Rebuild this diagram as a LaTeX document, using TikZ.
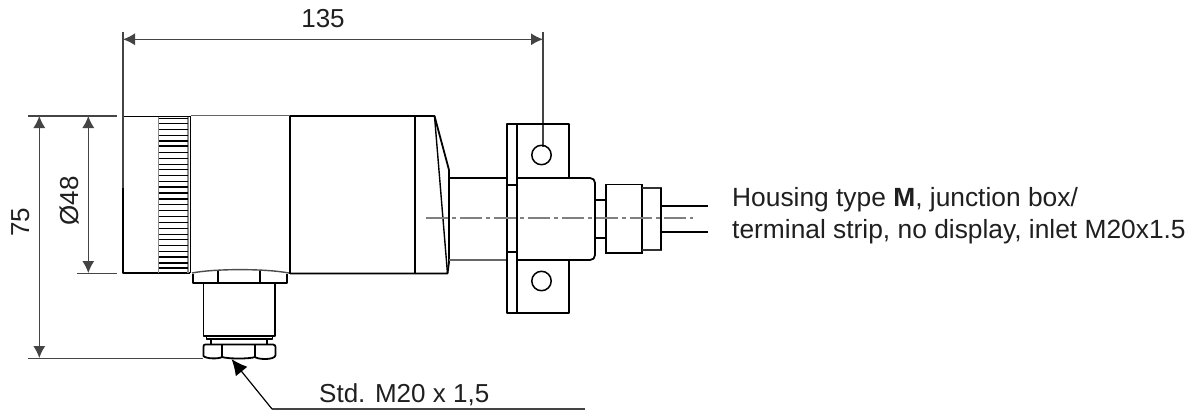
\documentclass[tikz,border=0pt]{standalone}
\usepackage{fontspec}
\setmainfont{Liberation Sans}
\usetikzlibrary{arrows.meta}
\definecolor{dimgray}{HTML}{444444}
\tikzset{
  part/.style={line width=1.8pt,black,line join=round},
  dim/.style={line width=1.1pt,draw=dimgray},
  dimarrow/.style={dim,{Latex[length=12pt,width=12pt]}-{Latex[length=12pt,width=12pt]}},
  center line/.style={line width=1.3pt,draw=black!50,dash pattern=on 22pt off 4pt on 4pt off 4pt},
  label/.style={font=\fontsize{26}{30}\selectfont,inner sep=0pt,text=black!88},
  longlabel/.style={font=\fontsize{26.35}{30}\selectfont,inner sep=0pt,text=black!88}
}
\begin{document}
\begin{tikzpicture}[x=1pt,y=-1pt]
\useasboundingbox (0,0) rectangle (1202,410);
% named dimension points
\coordinate (dl) at (123,39.3); \coordinate (dr) at (543,39.3);
\coordinate (a1) at (88.3,116); \coordinate (a2) at (88.3,273);
\coordinate (b1) at (39.3,116); \coordinate (b2) at (39.3,358);
% extension lines
\draw[dim] (28,116) -- (117,116);
\draw[dim] (77,273.5) -- (117,273.5);
\draw[dim] (28,358.5) -- (203,358.5);
% dimension lines
\draw[dimarrow] (dl) -- (dr);
\draw[dimarrow] (a1) -- (a2);
\draw[dimarrow] (b1) -- (b2);
% cap section and knurl
\draw[part] (190,116.5) -- (123,116.5) -- (123,273) -- (190,273);
\draw[line width=1.5pt,black!45] (158.7,116.5) -- (158.7,273) (188,116.5) -- (188,273);
\foreach \k in {55,70,87,105,157,175,192,208,226,243,314,332,349,367,385,402,419,436,453}
  \draw[line width=1pt] (158.7,100+\k/3) -- (188,100+\k/3);
\foreach \k in {122,138,260,278,296,470,488,505}
  \draw[line width=1.7pt] (158.7,100+\k/3) -- (188,100+\k/3);
% extension lines over the body
\draw[line width=1.8pt,draw=dimgray] (123,32) -- (123,188);
\draw[line width=1.8pt,draw=dimgray] (543,32) -- (543,147);
% middle section
\draw[line width=1.4pt,black!60] (190.5,115.7) -- (290,115.7);
\draw[part] (190.5,115.5) -- (190.5,273);
\draw[part] (290,115.5) -- (290,273.5);
% rear section with chamfer
\draw[part] (290,116) -- (434.5,116) -- (449,170) -- (449,262) -- (447.5,273.5) -- (290,273.5);
\draw[line width=1.4pt] (434.5,116) -- (447.5,273.5);
\draw[part] (415,116) -- (415,273.5);
% bottom connector
\draw[line width=1.4pt,black!70] (192,273) .. controls (215,268.5) and (265,268.5) .. (289,273);
\draw[part] (193,274) -- (193,283) -- (287,283) -- (287,274);
\draw[part] (218,271) -- (218,283) (260,271) -- (260,283);
\draw[part] (203.5,283) -- (203.5,336) -- (275,336) -- (275,283);
\draw[part] (206.5,336) -- (206.5,339) -- (272.5,339) -- (272.5,336);
\draw[part] (211,339) -- (211,344.5) (267,339) -- (267,344.5);
\draw[part] (205,344.5) -- (273,344.5) .. controls (275,344.5) and (275.5,346) .. (275.5,347) -- (275.5,355)
  .. controls (275.5,358) and (270,359) .. (265,359) .. controls (260,359) and (256,358) .. (255,357)
  .. controls (250,359) and (228,359) .. (222,357) .. controls (219,359) and (206,359) .. (203.5,356) -- (203.5,347) .. controls (203.5,345.5) and (204,344.5) .. (205,344.5);
\draw[part] (222,344.5) -- (222,358) (255,344.5) -- (255,358);
% tube
\draw[part] (449,178) -- (507,178);
\draw[line width=1.4pt,black!60] (449,260) -- (507,260);
% flange plate and bracket
\draw[part] (507,185) -- (507,124) -- (569,124) -- (569,178);
\draw[part] (517,124) -- (517,313);
\draw[part] (507,185) -- (517,185);
\draw[part] (507,185) -- (507,252) -- (517,252);
\draw[part] (507,252) -- (507,313) -- (569,313) -- (569,260);
% flange housing
\draw[part] (517,178) -- (590,178) .. controls (593,178) and (595,180) .. (595,183) -- (595,255) .. controls (595,258) and (593,260) .. (590,260) -- (517,260);
% holes
\draw[line width=1.5pt] (541.5,155) circle (9.7);
\draw[line width=1.5pt] (541.5,281) circle (9.7);
% cable gland
\draw[part] (595,200) -- (606,200) (595,238) -- (606,238);
\draw[line width=1.5pt] (606,184.5) rectangle (642,253);
\draw[part] (642,184.5) -- (642,253);
\draw[line width=1.5pt,black!80] (642,188) -- (661,188) -- (661,250) -- (642,250);
\draw[part] (661,188) -- (661,250);
% wires
\coordinate (w1) at (661,206); \coordinate (w1e) at (708,206);
\coordinate (w2) at (661,232); \coordinate (w2e) at (708,232);
\draw[part] (w1) -- (w1e);
\draw[part] (w2) -- (w2e);
% centre line
\draw[center line] (426,218) -- (693,218);
% leader
\coordinate (tip) at (231.5,359); \coordinate (elbow) at (272,409); \coordinate (lend) at (585,409);
\draw[line width=1.2pt,draw=dimgray] (elbow) -- (lend);
\draw[line width=1.2pt,draw=black,{Latex[length=16pt,width=15pt]}-] (tip) -- (elbow);
% labels
\node[label,anchor=base] (t135) at (323,27) {135};
\node[label,anchor=base,rotate=90] (t48) at (78,201) {Ø48};
\node[label,anchor=base,rotate=90] (t75) at (29,222.5) {75};
\node[label,anchor=base west] (tstd) at (319,402) {Std. M20 x 1,5};
\node[longlabel,anchor=base west] (th1) at (732,206) {Housing type \textbf{M}, junction box/};
\node[longlabel,anchor=base west] (th2) at (732,238) {terminal strip, no display, inlet M20x1.5};
\end{tikzpicture}
\end{document}
